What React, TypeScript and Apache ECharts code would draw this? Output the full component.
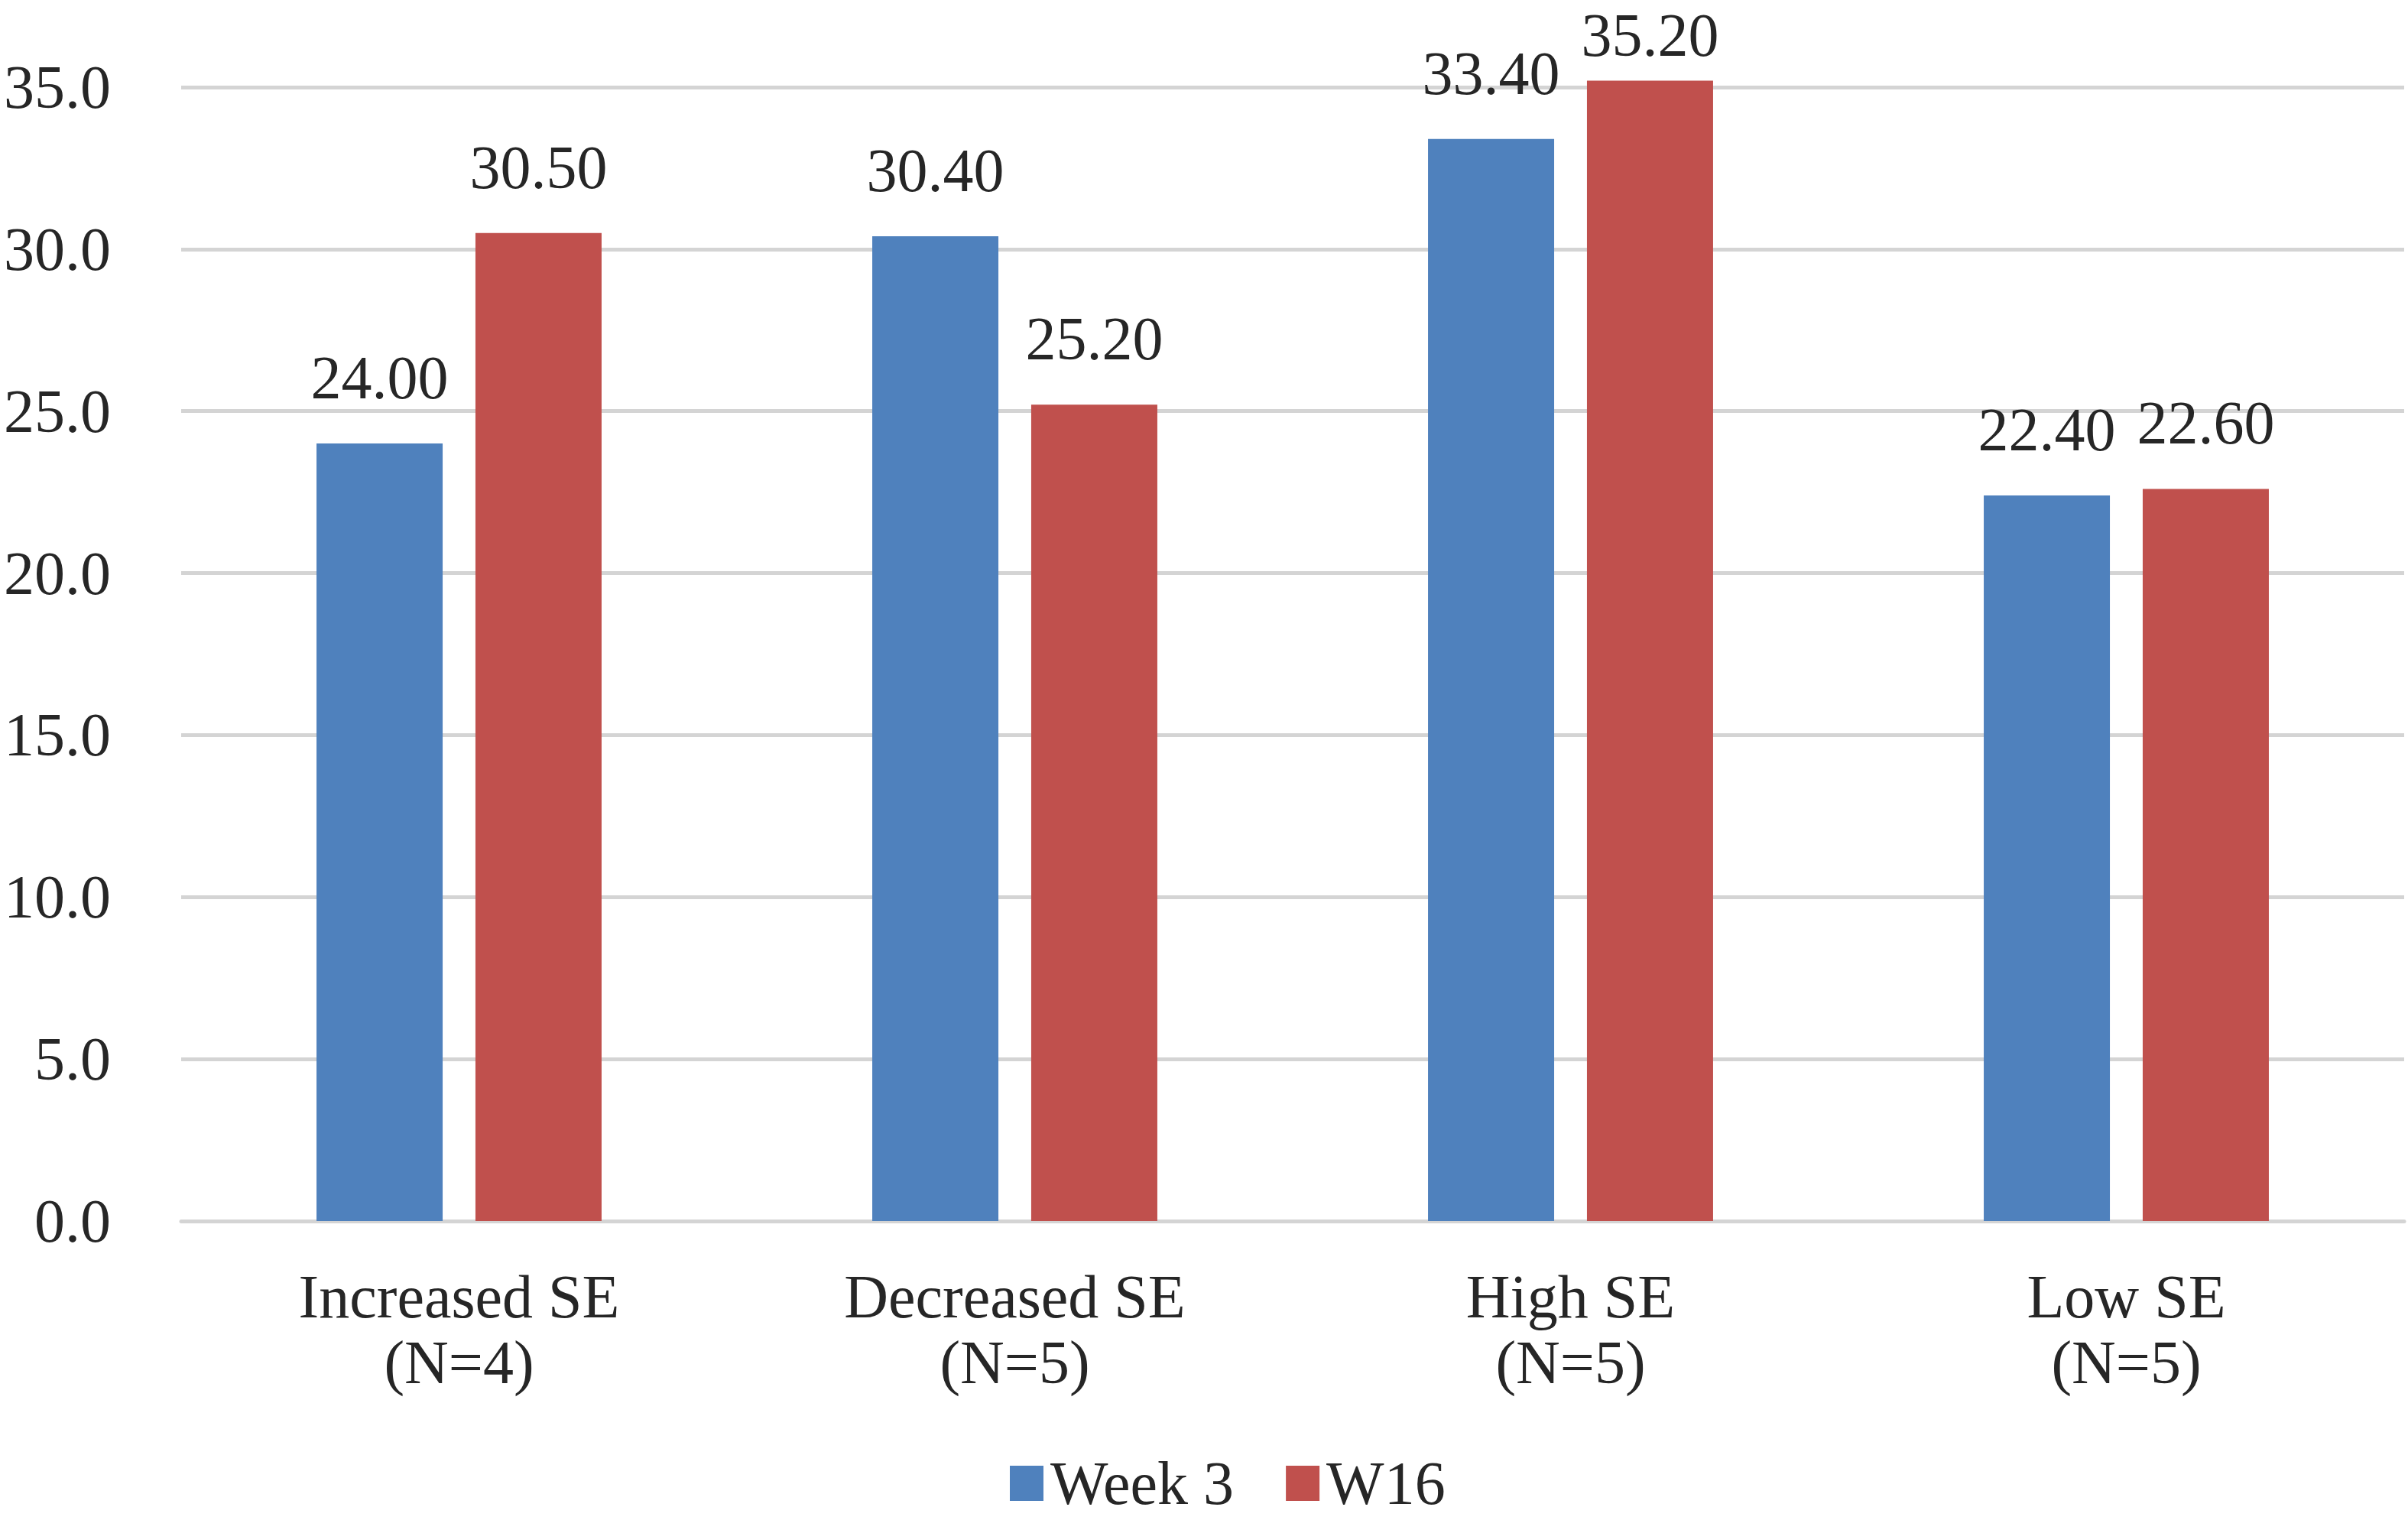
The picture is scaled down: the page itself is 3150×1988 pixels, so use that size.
import React, { useEffect, useRef } from "react";
import * as echarts from "echarts";

const categories = ["Increased SE\n(N=4)", "Decreased SE\n(N=5)", "High SE\n(N=5)", "Low SE\n(N=5)"];
const week3Values = [24.0, 30.4, 33.4, 22.4];
const w16Values = [30.5, 25.2, 35.2, 22.6];
const seriesNames = ["Week 3", "W16"];
const yMin = 0;
const yMax = 35;
const yInterval = 5;

const FONT = "'Liberation Serif', 'Times New Roman', serif";
const TEXT = "#262626";

export default function App() {
  const ref = useRef<HTMLDivElement>(null);
  useEffect(() => {
    document.body.style.margin = "0";
    if (!ref.current) return;
    const chart = echarts.init(ref.current, undefined, { renderer: "svg" });
    const label = {
      show: true,
      position: "top",
      distance: 56,
      fontFamily: FONT,
      fontSize: 80,
      lineHeight: 60,
      color: TEXT,
      formatter: (p: any) => Number(p.value).toFixed(2),
    };
    // values above the axis maximum get their label pulled closer, as the original does
    const toData = (arr: number[]) =>
      arr.map((v) => (v > yMax ? { value: v, label: { distance: 30 } } : v));
    chart.setOption({
      animation: false,
      backgroundColor: "#ffffff",
      textStyle: { fontFamily: FONT },
      grid: { left: 237, right: 5, top: 114, bottom: 391, containLabel: false },
      legend: {
        data: seriesNames,
        left: 1316,
        top: 1895,
        itemWidth: 44,
        itemHeight: 46,
        itemGap: 68,
        icon: "rect",
        textStyle: { fontFamily: FONT, fontSize: 80, lineHeight: 60, color: TEXT, padding: [0, 0, 0, 4] },
      },
      xAxis: {
        type: "category",
        data: categories,
        axisLine: { show: true, lineStyle: { color: "#d4d4d4", width: 5 } },
        axisTick: { show: false },
        axisLabel: {
          fontFamily: FONT,
          fontSize: 80,
          color: TEXT,
          lineHeight: 86,
          margin: 56,
        },
      },
      yAxis: {
        type: "value",
        min: yMin,
        max: yMax,
        interval: yInterval,
        axisLine: { show: false },
        axisTick: { show: false },
        splitLine: { lineStyle: { color: "#d4d4d4", width: 5 } },
        axisLabel: {
          fontFamily: FONT,
          fontSize: 80,
          color: TEXT,
          margin: 92,
          formatter: (v: number) => v.toFixed(1),
        },
      },
      series: [
        {
          name: seriesNames[0],
          type: "bar",
          data: toData(week3Values),
          barWidth: 165,
          barGap: "26%",
          clip: false,
          itemStyle: { color: "#4F81BD" },
          label,
        },
        {
          name: seriesNames[1],
          type: "bar",
          data: toData(w16Values),
          barWidth: 165,
          barGap: "26%",
          clip: false,
          itemStyle: { color: "#C0504D" },
          label,
        },
      ],
    });
    return () => chart.dispose();
  }, []);
  return <div ref={ref} style={{ width: 3150, height: 1988 }} />;
}
